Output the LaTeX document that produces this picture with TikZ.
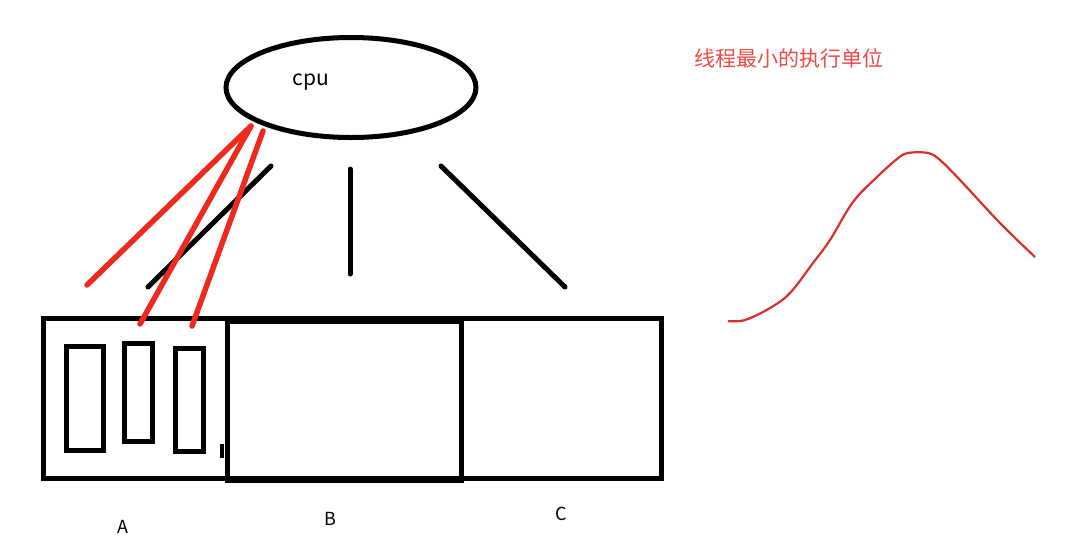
\documentclass[tikz,border=0pt]{standalone}
\usepackage{fontspec}
\setmainfont{Noto Sans CJK SC}
\usetikzlibrary{shapes.geometric}
\definecolor{penred}{HTML}{EE2A1E}
\definecolor{curvered}{HTML}{D8302A}
\definecolor{textred}{HTML}{EE4A44}
\tikzset{
  blk/.style={line width=5pt, black},
  redstroke/.style={line width=5.5pt, penred, line cap=round},
  blkstroke/.style={line width=5pt, black, line cap=round},
  boxnode/.style={draw, line width=5pt, inner sep=0pt},
  lbl/.style={font=\fontsize{18}{21}\selectfont, inner sep=0pt}
}
\begin{document}
\begin{tikzpicture}[x=1pt,y=-1pt]
\useasboundingbox (0,0) rectangle (1069,550);
% cpu ellipse
\node[ellipse, draw, line width=5pt, minimum width=250pt, minimum height=100pt, inner sep=0pt] (cpu) at (351,87.5) {};
\node[font=\fontsize{21}{24}\selectfont, inner sep=0pt] (cputxt) at (311,82) {cpu};
% boxes
\node[boxnode, minimum width=618pt, minimum height=160pt] (outer) at (352,398) {};
\node[boxnode, minimum width=234pt, minimum height=159pt] (bbox) at (344,401) {};
\node[boxnode, minimum width=37pt, minimum height=104pt] (t1) at (84.5,398) {};
\node[boxnode, minimum width=28pt, minimum height=98pt] (t2) at (138,392) {};
\node[boxnode, minimum width=28pt, minimum height=103pt] (t3) at (189.5,400) {};
\draw[line width=4pt] (222,444) -- (222,458);
% labels
\node[lbl] (la) at (123,527) {A};
\node[lbl] (lb) at (330,519) {B};
\node[lbl] (lc) at (561,514) {C};
% black lines
\coordinate (k1s) at (148,287); \coordinate (k1e) at (271,166);
\coordinate (k2s) at (350,274); \coordinate (k2e) at (350,169);
\coordinate (k3s) at (565,287); \coordinate (k3e) at (441,166);
\draw[blkstroke] (k1s) -- (k1e);
\draw[blkstroke] (k2s) -- (k2e);
\draw[blkstroke] (k3s) -- (k3e);
% red lines
\coordinate (r0) at (251,126);
\coordinate (r3e) at (263,131);
\coordinate (r1s) at (87,285);
\coordinate (r2s) at (140,324);
\coordinate (r3s) at (192,326);
\draw[redstroke] (r1s) -- (r0);
\draw[redstroke] (r2s) -- (r0);
\draw[redstroke] (r3s) -- (r3e);
% title
\node[text=textred, font=\fontsize{21}{24}\selectfont, inner sep=0pt, anchor=west] (title) at (694,58) {线程最小的执行单位};
% curve
\draw[curvered, line width=2.2pt, line join=round] plot[smooth, tension=0.6] coordinates {(728,321) (745,320) (770,308) (790,293) (813,263) (830,240) (853,202) (877,177) (897,159) (908,153) (928,153) (940,160) (960,180) (1000,223) (1035,257)};
\end{tikzpicture}
\end{document}
